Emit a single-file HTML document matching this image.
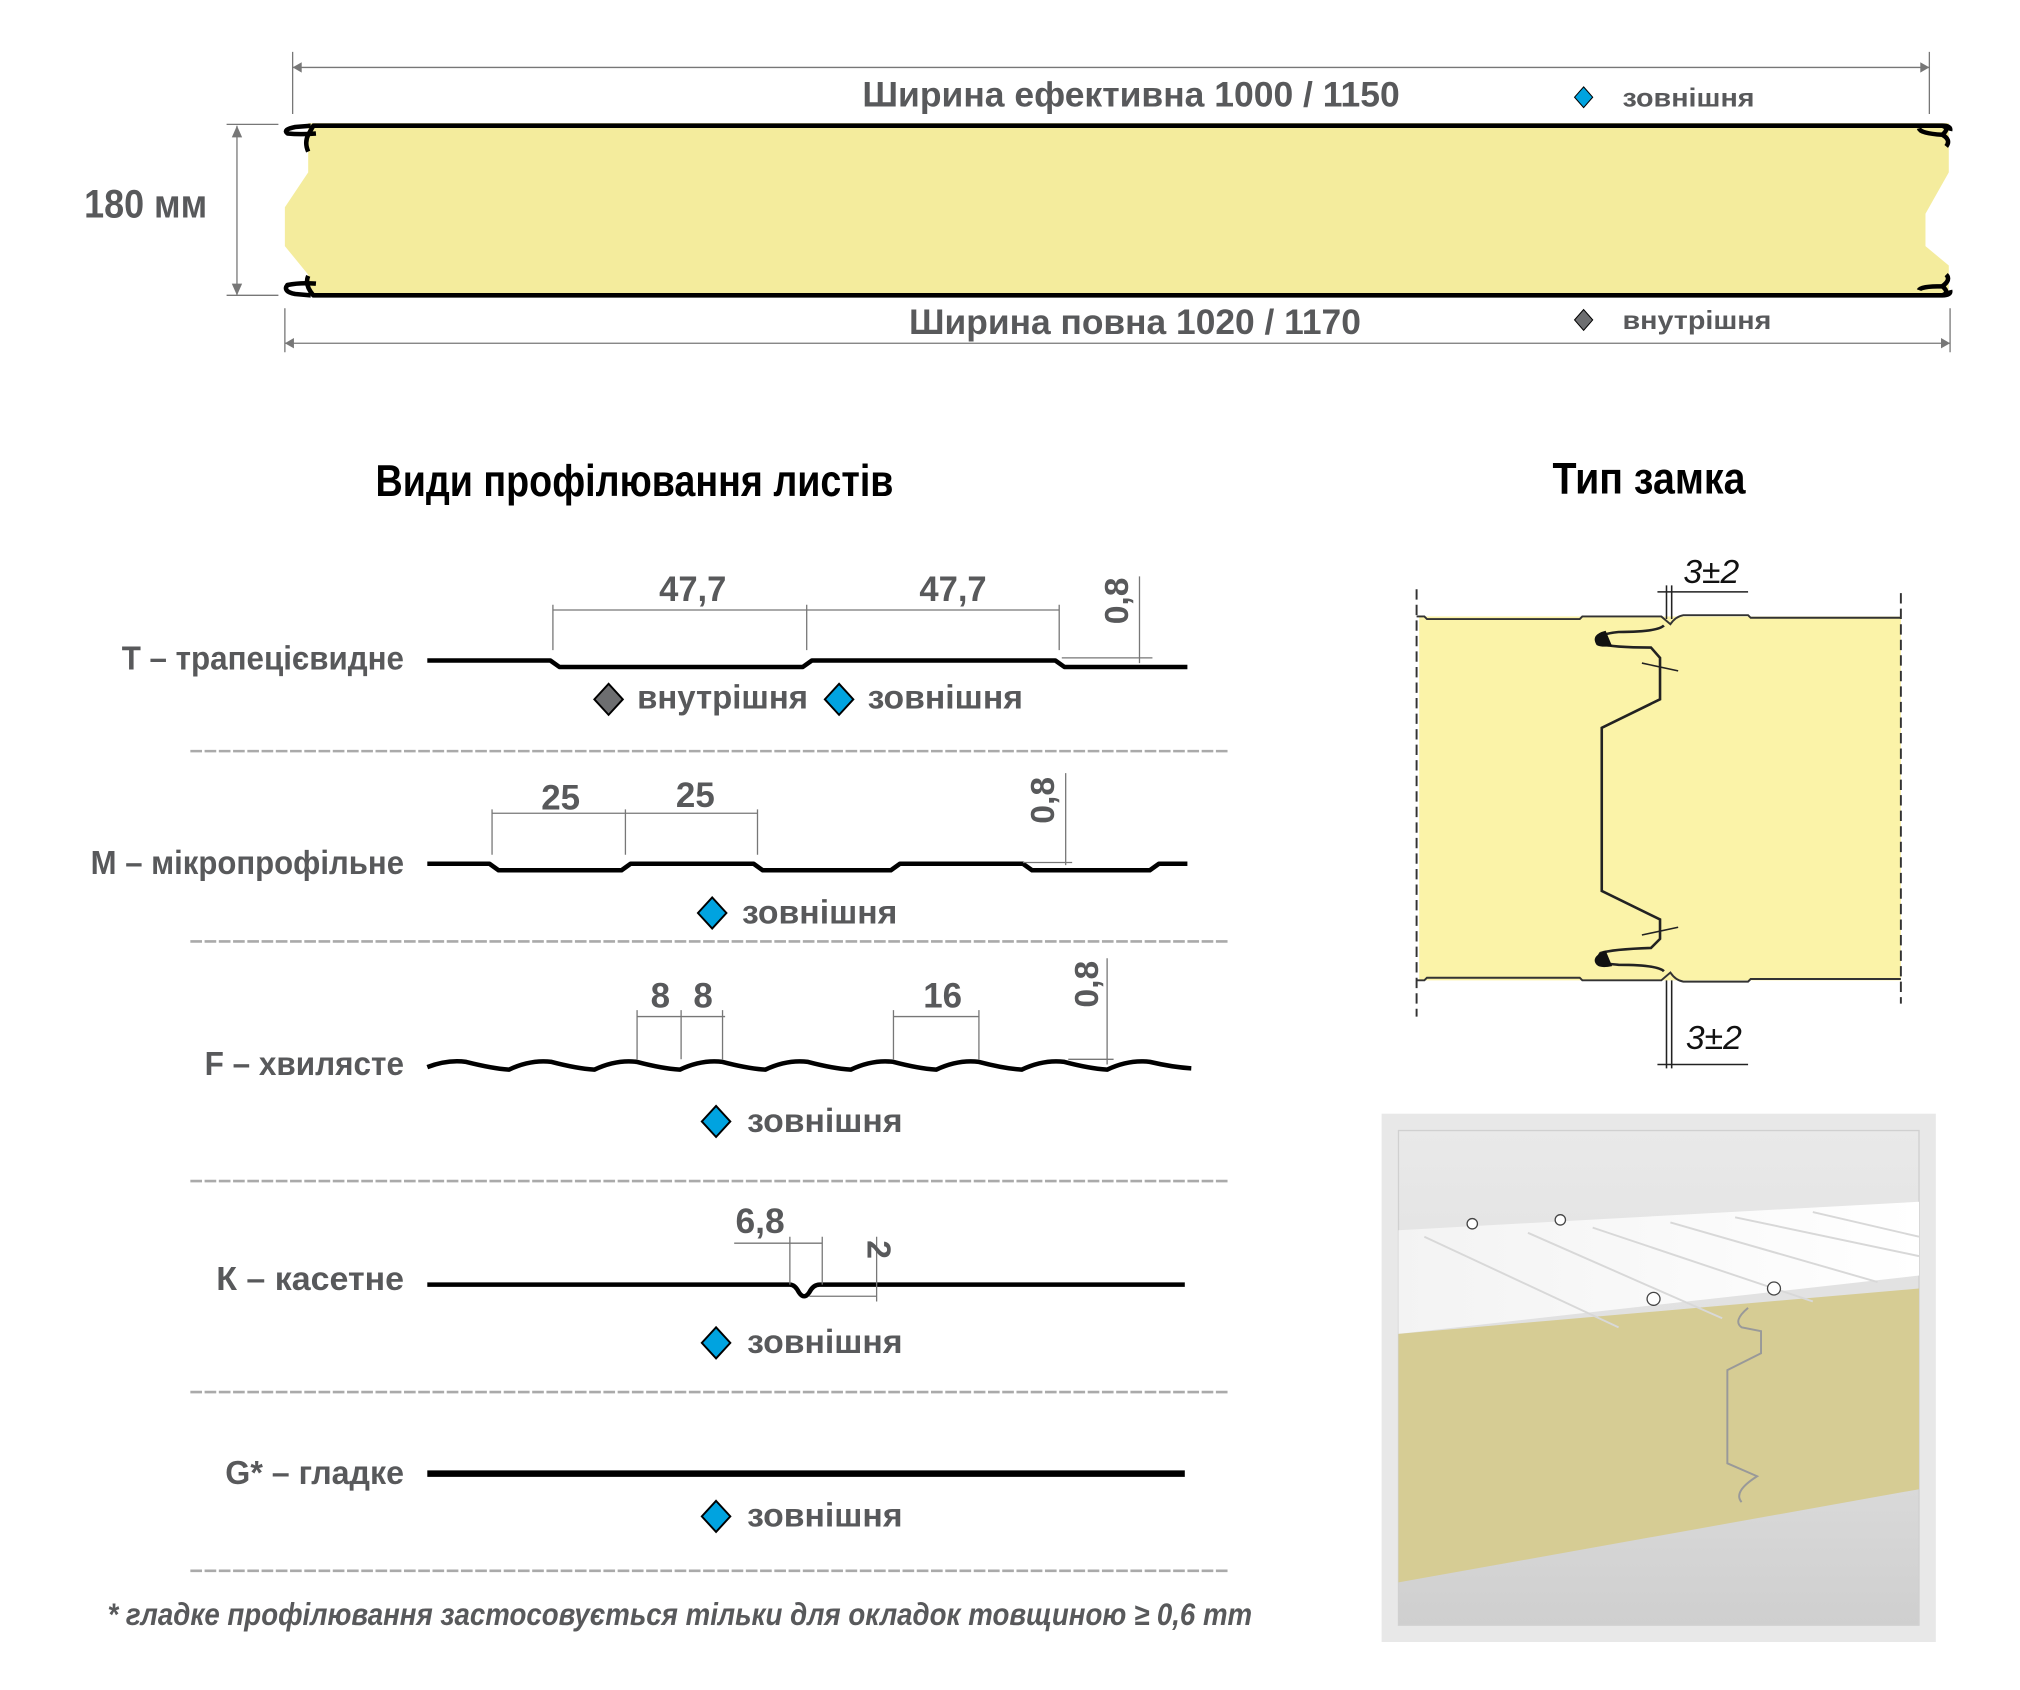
<!DOCTYPE html>
<html><head><meta charset="utf-8"><style>
html,body{margin:0;padding:0;background:#fff;}
svg{display:block}
.g{font-family:"Liberation Sans",sans-serif;font-weight:bold;fill:#58595b}
.t{font-family:"Liberation Sans",sans-serif;font-weight:bold;fill:#000}
.dl{stroke:#777;stroke-width:1;fill:none}
.sep{stroke:#aaa;stroke-width:2;stroke-dasharray:9 2;fill:none}
.pr{stroke:#000;stroke-width:3.5;fill:none;stroke-linejoin:round}
</style></head><body>
<svg width="2020" height="1690" viewBox="0 0 1560 1305" xmlns="http://www.w3.org/2000/svg">
<defs>
<linearGradient id="gb" x1="0" y1="0" x2="0" y2="1"><stop offset="0" stop-color="#e9e9e9"/><stop offset="0.7" stop-color="#dadada"/><stop offset="1" stop-color="#cfcfcf"/></linearGradient>
<linearGradient id="gt" x1="0" y1="0" x2="1" y2="0"><stop offset="0" stop-color="#f3f3f3"/><stop offset="1" stop-color="#ffffff"/></linearGradient>
</defs>
<path class="dl" d="M226 52H1490M226 40V88M1490 40V88"/>
<path d="M226 52l7-4v8zM1490 52l-7-4v8z" fill="#777"/>
<text class="g" x="666" y="82" font-size="27" textLength="415" lengthAdjust="spacingAndGlyphs">Ширина ефективна 1000 / 1150</text>
<path d="M1223 67l7 8-7 8-7-8z" fill="#00a3e0" stroke="#000" stroke-width="0.8"/>
<text class="g" x="1253" y="82" font-size="20" textLength="102" lengthAdjust="spacingAndGlyphs">зовнішня</text>
<path class="dl" d="M183 97V228M175 96H215M175 228H215"/>
<path d="M183 97l-4 9h8zM183 228l-4-9h8z" fill="#777"/>
<text class="g" x="65" y="168" font-size="31" textLength="95" lengthAdjust="spacingAndGlyphs">180 мм</text>
<path d="M238 95H1505V133L1487 165V190L1505 205V228H238V212L220 190V160L238 133Z" fill="#f4ec9d"/>
<path d="M238 117 Q235 110 238 104 L242 97 H1500 Q1507 97 1506 101" class="pr" stroke-width="3"/>
<path d="M244 103 Q232 104 222 103 Q218 100 228 98 L240 97" class="pr" stroke-width="3"/>
<path d="M238 213 Q235 220 242 228 H1500 Q1507 228 1506 224" class="pr" stroke-width="3"/>
<path d="M244 219 Q232 218 222 220 Q218 225 228 227 L240 228" class="pr" stroke-width="3"/>
<path d="M1500 97 Q1506 99 1500 104 Q1483 103 1482 99 M1500 104 Q1507 108 1503 113" class="pr" stroke-width="3"/>
<path d="M1500 228 Q1506 226 1500 221 Q1483 221 1482 224 M1500 221 Q1507 216 1503 212" class="pr" stroke-width="3"/>
<path class="dl" d="M220 265H1506M220 238V272M1506 238V272"/>
<path d="M220 265l7-4v8zM1506 265l-7-4v8z" fill="#777"/>
<text class="g" x="702" y="258" font-size="27" textLength="349" lengthAdjust="spacingAndGlyphs">Ширина повна 1020 / 1170</text>
<path d="M1223 239l7 8-7 8-7-8z" fill="#6d6e70" stroke="#000" stroke-width="0.8"/>
<text class="g" x="1253" y="254" font-size="20" textLength="115" lengthAdjust="spacingAndGlyphs">внутрішня</text>
<text class="t" x="290" y="383" font-size="34" textLength="400" lengthAdjust="spacingAndGlyphs">Види профілювання листів</text>
<text class="t" x="1199" y="381" font-size="34" textLength="149" lengthAdjust="spacingAndGlyphs">Тип замка</text>
<!-- T -->
<text class="g" x="94" y="517" font-size="26" textLength="218" lengthAdjust="spacingAndGlyphs">Т – трапецієвидне</text>
<path class="pr" d="M330 510H425L432 515H620L627 510H815L822 515H917"/>
<path class="dl" d="M427 467V502M623 467V502M818 467V502M427 471H818M880 445V512M820 508H890"/>
<text class="g" x="509" y="464" font-size="27" textLength="52" lengthAdjust="spacingAndGlyphs">47,7</text>
<text class="g" x="710" y="464" font-size="27" textLength="52" lengthAdjust="spacingAndGlyphs">47,7</text>
<text class="g" font-size="26" text-anchor="middle" transform="translate(871 464) rotate(-90)">0,8</text>
<path d="M470 528l11 12-11 12-11-12z" fill="#6d6e70" stroke="#000" stroke-width="1.5"/>
<text class="g" x="492" y="547" font-size="26" textLength="132" lengthAdjust="spacingAndGlyphs">внутрішня</text>
<path d="M648 528l11 12-11 12-11-12z" fill="#00a3e0" stroke="#000" stroke-width="1.5"/>
<text class="g" x="670" y="547" font-size="26" textLength="120" lengthAdjust="spacingAndGlyphs">зовнішня</text>
<path class="sep" d="M147 580H948"/>
<!-- M -->
<text class="g" x="70" y="675" font-size="26" textLength="242" lengthAdjust="spacingAndGlyphs">М – мікропрофільне</text>
<path class="pr" d="M330 667H378L385 672H480L487 667H582L589 672H688L695 667H790L797 672H888L895 667H917"/>
<path class="dl" d="M380 625V660M483 625V660M585 625V660M380 628H585M823 597V668M790 666H828"/>
<text class="g" x="418" y="625" font-size="27" textLength="30" lengthAdjust="spacingAndGlyphs">25</text>
<text class="g" x="522" y="623" font-size="27" textLength="30" lengthAdjust="spacingAndGlyphs">25</text>
<text class="g" font-size="26" text-anchor="middle" transform="translate(814 618) rotate(-90)">0,8</text>
<path d="M550 693l11 12-11 12-11-12z" fill="#00a3e0" stroke="#000" stroke-width="1.5"/>
<text class="g" x="573" y="713" font-size="26" textLength="120" lengthAdjust="spacingAndGlyphs">зовнішня</text>
<path class="sep" d="M147 727H948"/>
<!-- F -->
<text class="g" x="158" y="830" font-size="26" textLength="154" lengthAdjust="spacingAndGlyphs">F – хвилясте</text>
<path class="pr" d="M330 824 Q346 818 360 820 Q380 825 393 826 Q410 818 426 820 Q445 825 459 826 Q476 818 492 820 Q511 825 525 826 Q542 818 558 820 Q577 825 591 826 Q608 818 624 820 Q643 825 657 826 Q674 818 690 820 Q709 825 723 826 Q740 818 756 820 Q775 825 789 826 Q806 818 822 820 Q841 825 855 826 Q872 818 888 820 Q905 824 920 825"/>
<path class="dl" d="M492 780V818M526 780V818M558 780V818M492 785H560M690 780V818M756 780V818M690 785H756M855 740V822M825 818H860"/>
<text class="g" x="510" y="778" font-size="27" text-anchor="middle">8</text>
<text class="g" x="543" y="778" font-size="27" text-anchor="middle">8</text>
<text class="g" x="713" y="778" font-size="27" textLength="30" lengthAdjust="spacingAndGlyphs">16</text>
<text class="g" font-size="26" text-anchor="middle" transform="translate(848 760) rotate(-90)">0,8</text>
<path d="M553 854l11 12-11 12-11-12z" fill="#00a3e0" stroke="#000" stroke-width="1.5"/>
<text class="g" x="577" y="874" font-size="26" textLength="120" lengthAdjust="spacingAndGlyphs">зовнішня</text>
<path class="sep" d="M147 912H948"/>
<!-- K -->
<text class="g" x="167" y="996" font-size="26" textLength="145" lengthAdjust="spacingAndGlyphs">К – касетне</text>
<path class="pr" d="M330 992H610Q614 992 617 998Q621 1004 625 998Q628 992 633 992H915" stroke-width="3"/>
<path class="dl" d="M567 960H635M610 955V992M635 955V992M677 955V1005M625 1001H677"/>
<text class="g" x="568" y="952" font-size="27" textLength="38" lengthAdjust="spacingAndGlyphs">6,8</text>
<text class="g" font-size="26" text-anchor="middle" transform="translate(670 965) rotate(90)">2</text>
<path d="M553 1025l11 12-11 12-11-12z" fill="#00a3e0" stroke="#000" stroke-width="1.5"/>
<text class="g" x="577" y="1045" font-size="26" textLength="120" lengthAdjust="spacingAndGlyphs">зовнішня</text>
<path class="sep" d="M147 1075H948"/>
<!-- G -->
<text class="g" x="174" y="1146" font-size="26" textLength="138" lengthAdjust="spacingAndGlyphs">G* – гладке</text>
<path d="M330 1138H915" stroke="#000" stroke-width="5"/>
<path d="M553 1159l11 12-11 12-11-12z" fill="#00a3e0" stroke="#000" stroke-width="1.5"/>
<text class="g" x="577" y="1179" font-size="26" textLength="120" lengthAdjust="spacingAndGlyphs">зовнішня</text>
<path class="sep" d="M147 1213H948"/>
<text class="g" x="83" y="1255" font-size="24" font-style="italic" font-weight="normal" textLength="884" lengthAdjust="spacingAndGlyphs">* гладке профілювання застосовується тільки для окладок товщиною ≥ 0,6 mm</text>
<!-- lock drawing -->
<path d="M1096 476H1468V757H1096Z" fill="#fbf3a8"/>
<path d="M1094 455V785M1468 458V775" stroke="#333" stroke-width="1.5" stroke-dasharray="8 4"/>
<path d="M1094 476H1100L1102 478H1220L1222 476H1283L1290 482Q1294 476 1300 475H1350L1352 477H1468" stroke="#333" stroke-width="1.5" fill="none"/>
<path d="M1094 757H1100L1102 755H1220L1222 757H1283L1290 751Q1294 757 1300 758H1350L1352 756H1468" stroke="#333" stroke-width="1.5" fill="none"/>
<path d="M1285 483Q1280 488 1250 488Q1230 490 1236 497Q1245 500 1275 500L1282 508V540L1237 562V688L1282 710V725L1275 732Q1245 733 1236 736Q1230 744 1250 745Q1280 745 1285 750" stroke="#222" stroke-width="2" fill="none"/>
<path d="M1240 487Q1228 490 1233 498Q1236 500 1245 499Z M1240 734Q1228 739 1233 745Q1236 748 1245 746Z" fill="#111"/>
<path d="M1268 512L1296 518M1268 722L1296 716" stroke="#222" stroke-width="1.2"/>
<path d="M1287 452V478M1291 452V478M1287 757V825M1291 757V825M1280 457H1350M1280 822H1350" stroke="#222" stroke-width="1.2"/>
<text x="1300" y="450" font-family="Liberation Sans,sans-serif" font-style="italic" font-size="26" fill="#111">3±2</text>
<text x="1302" y="810" font-family="Liberation Sans,sans-serif" font-style="italic" font-size="26" fill="#111">3±2</text>
<!-- photo -->
<rect x="1067" y="860" width="428" height="408" fill="#e8e8e8"/>
<rect x="1080" y="873" width="402" height="382" fill="url(#gb)" stroke="#d0d0d0"/>
<path d="M1080 950L1482 928V985L1080 1030Z" fill="url(#gt)"/>
<path d="M1080 1030L1482 995V1150L1080 1222Z" fill="#d6cc94"/>
<path d="M1100 955L1250 1025M1180 952L1330 1018M1230 948L1400 1005M1290 944L1450 990M1340 940L1482 970M1400 936L1482 955" stroke="#d8d8d8" stroke-width="1.5"/>
<path d="M1350 1010Q1338 1020 1345 1025L1360 1028V1045L1334 1058V1130L1357 1140Q1338 1152 1345 1160" stroke="#999" stroke-width="1.5" fill="none"/>
<circle cx="1137" cy="945" r="4" fill="#fff" stroke="#444"/>
<circle cx="1205" cy="942" r="4" fill="#fff" stroke="#444"/>
<circle cx="1277" cy="1003" r="5" fill="#fff" stroke="#444"/>
<circle cx="1370" cy="995" r="5" fill="#fff" stroke="#444"/>
</svg>
</body></html>
